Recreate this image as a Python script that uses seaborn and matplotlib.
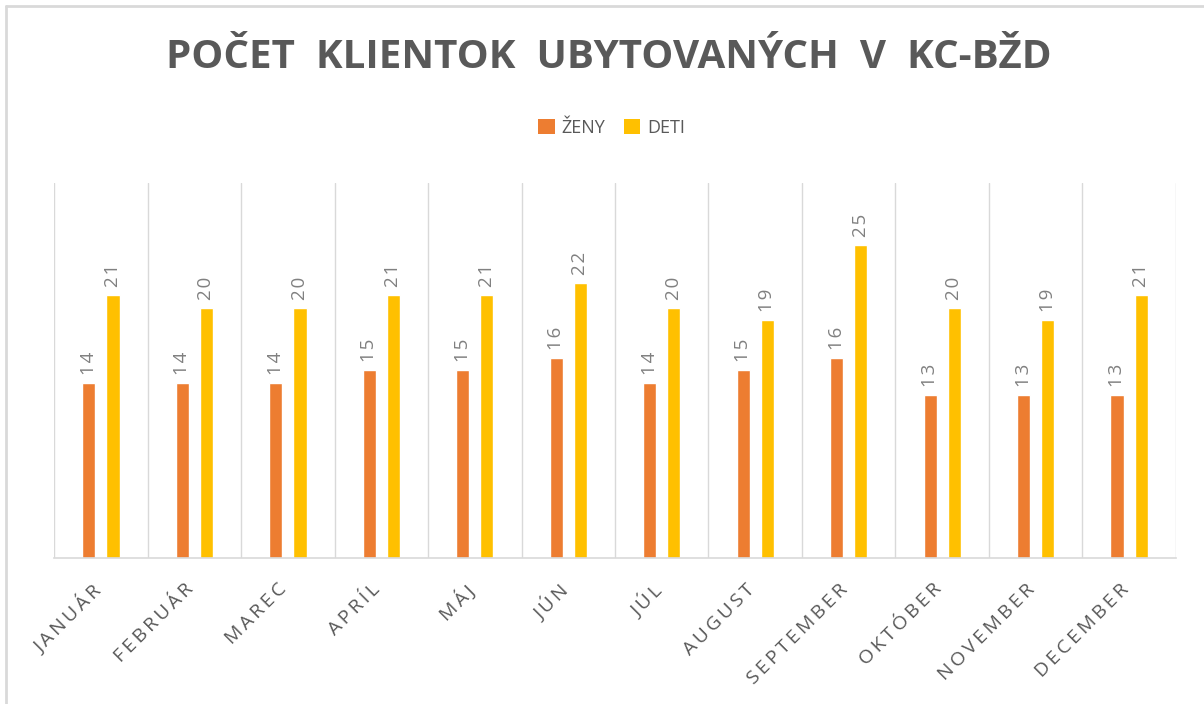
import numpy as np
import pandas as pd
import matplotlib
matplotlib.use('Agg')
import matplotlib.pyplot as plt
import matplotlib.transforms as mtransforms
import seaborn as sns
from matplotlib.lines import Line2D
from matplotlib.patches import Patch

# ─── Data ─────────────────────────────────────────────────────────────────────

months = ['JANUÁR', 'FEBRUÁR', 'MAREC', 'APRÍL', 'MÁJ', 'JÚN',
          'JÚL', 'AUGUST', 'SEPTEMBER', 'OKTÓBER', 'NOVEMBER', 'DECEMBER']
zeny = [14, 14, 14, 15, 15, 16, 14, 15, 16, 13, 13, 13]
deti = [21, 20, 20, 21, 21, 22, 20, 19, 25, 20, 19, 21]
series = ['ŽENY', 'DETI']
colors = ['#ED7D31', '#FFC000']

df = pd.DataFrame({
    'mesiac': months * 2,
    'skupina': [series[0]] * len(months) + [series[1]] * len(months),
    'pocet': zeny + deti,
})

# ─── Plot ─────────────────────────────────────────────────────────────────────

sns.set_theme(style='white')
plt.rcParams['font.family'] = ['Open Sans', 'DejaVu Sans']

fig = plt.figure(figsize=(12.04, 7.04), dpi=100)
ax = fig.add_axes([0.0449, 0.2074, 0.9318, 0.5327])

sns.barplot(data=df, x='mesiac', y='pocet', hue='skupina', order=months,
            hue_order=series, palette=colors, width=0.52, gap=0.46,
            saturation=1, ax=ax, legend=False)

ax.set_ylim(0, 30)
ax.set_xlim(-0.5, len(months) - 0.5)

# data labels (slightly letter-spaced like the original)
for cont in ax.containers:
    ax.bar_label(cont, labels=['\u200a'.join(f'{int(v)}') for v in cont.datavalues],
                 rotation=90, padding=6, color='#808080', fontsize=13.5)

# category separators
ax.set_xticks(np.arange(-0.5, len(months)), minor=True)
ax.grid(which='minor', axis='x', color='#D9D9D9', linewidth=1)
ax.grid(which='major', axis='both', visible=False)
ax.tick_params(which='both', length=0)
ax.set_yticks([])
for s in ['top', 'right', 'left']:
    ax.spines[s].set_visible(False)
ax.spines['bottom'].set_color('#D9D9D9')
ax.spines['bottom'].set_linewidth(1.2)

ax.set_xticks(range(len(months)))
ax.set_xticklabels(['\u2009'.join(m) for m in months], rotation=45, ha='right',
                   rotation_mode='anchor', fontsize=14, color='#595959')
ax.tick_params(axis='x', pad=16)
# nudge labels a bit to the left, like the original
shift = mtransforms.ScaledTranslation(-10 / 100, 0, fig.dpi_scale_trans)
for lbl in ax.get_xticklabels():
    lbl.set_transform(lbl.get_transform() + shift)
ax.set_xlabel('')
ax.set_ylabel('')

fig.text(0.506, 0.918, 'POČET  KLIENTOK  UBYTOVANÝCH  V  KC-BŽD',
         ha='center', va='center', fontsize=29, fontweight='bold',
         color='#595959')

handles = [Patch(facecolor=c, edgecolor='none') for c in colors]
fig.legend(handles, series, loc='center', bbox_to_anchor=(0.508, 0.818),
           ncol=2, frameon=False, fontsize=13, handlelength=0.9,
           handleheight=0.9, handletextpad=0.4, columnspacing=1.0,
           labelcolor='#595959')

# chart area border (top and left edges visible)
fig.add_artist(Line2D([0.005, 1.0], [0.992, 0.992], color='#D9D9D9',
                      linewidth=2, transform=fig.transFigure))
fig.add_artist(Line2D([0.005, 0.005], [0.0, 0.992], color='#D9D9D9',
                      linewidth=2, transform=fig.transFigure))

fig.savefig('out.png', dpi=100)
plt.close(fig)
